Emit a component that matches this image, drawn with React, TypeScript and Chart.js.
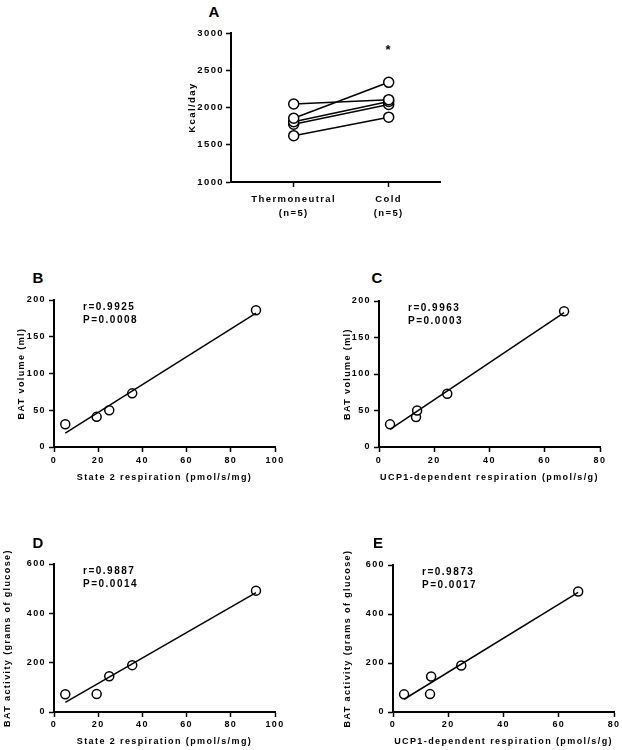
import React, { useEffect, useRef } from "react";
import { Chart, registerables } from "chart.js";
Chart.register(...registerables);

const FONT = '"Liberation Sans", Arial, Helvetica, sans-serif';
const SPACING = "1.4px";

// ---------- Panel A data ----------
const groupLabels = [["Thermoneutral", "(n=5)"], ["Cold", "(n=5)"]];
const groupPositions = [1, 2];
const groupAxisRange = [0.34, 2.54];
const kcalThermoneutral = [2047, 1855, 1810, 1775, 1622];
const kcalCold = [2105, 2338, 2080, 2040, 1870];
const kcalTicks = [1000, 1500, 2000, 2500, 3000];
const kcalTitle = "Kcal/day";
const significanceMark = "*";
const significanceY = 2760;

// ---------- Panels B-E data ----------
const state2Respiration = [5.1, 19.3, 25.0, 35.4, 91.4];
const ucp1Respiration = [4.0, 13.4, 13.8, 24.7, 67.0];
const batVolume = [31, 41, 50, 73, 186];
const batActivity = [72, 73, 145, 190, 492];

const state2Ticks = [0, 20, 40, 60, 80, 100];
const ucp1Ticks = [0, 20, 40, 60, 80];
const volumeTicks = [0, 50, 100, 150, 200];
const activityTicks = [0, 200, 400, 600];

const fitBx = [5.1, 91.4];
const fitBy = [19, 182];
const fitCx = [4.0, 67.0];
const fitCy = [24, 184];
const fitDx = [5.1, 91.4];
const fitDy = [39, 484];
const fitEx = [4.0, 67.0];
const fitEy = [52, 488];

const statsB = ["r=0.9925", "P=0.0008"];
const statsC = ["r=0.9963", "P=0.0003"];
const statsD = ["r=0.9887", "P=0.0014"];
const statsE = ["r=0.9873", "P=0.0017"];

const state2Title = "State 2 respiration (pmol/s/mg)";
const ucp1Title = "UCP1-dependent respiration (pmol/s/g)";
const volumeTitle = "BAT volume (ml)";
const activityTitle = "BAT activity (grams of glucose)";

// ---------- layout ----------
type Spec = {
  L: number; R: number; T: number; B: number;
  yTitleX: number; xTitleY: number;
  padTop: number; padRight: number;
  fontSize: number; tickPadX: number; tickPadY: number; tickLineHeight?: number;
};

const specA: Spec = { L: 231, R: 440, T: 33, B: 182, yTitleX: 192, xTitleY: 219, padTop: 10, padRight: 15, fontSize: 9.5, tickPadX: 5, tickPadY: 2, tickLineHeight: 1.5 };
const specB: Spec = { L: 54, R: 275, T: 300, B: 447, yTitleX: 22, xTitleY: 478, padTop: 10, padRight: 15, fontSize: 9, tickPadX: 3, tickPadY: 3 };
const specC: Spec = { L: 379, R: 600, T: 301, B: 447, yTitleX: 348, xTitleY: 478, padTop: 10, padRight: 15, fontSize: 9, tickPadX: 3, tickPadY: 3 };
const specD: Spec = { L: 54, R: 275, T: 564, B: 712, yTitleX: 8, xTitleY: 742, padTop: 18, padRight: 15, fontSize: 9, tickPadX: 2.5, tickPadY: 3 };
const specE: Spec = { L: 393, R: 615, T: 565, B: 712, yTitleX: 348, xTitleY: 742, padTop: 18, padRight: 8, fontSize: 9, tickPadX: 2.5, tickPadY: 3 };

function geom(s: Spec) {
  const left = Math.floor(s.yTitleX - 8);
  const top = s.T - s.padTop;
  const bottom = Math.min(750, Math.ceil(s.xTitleY + 8));
  return {
    left, top,
    width: s.R + s.padRight - left,
    height: bottom - top,
    wy: s.L - left,
    hx: bottom - s.B,
  };
}

const spacingPlugin = {
  id: "spacing",
  beforeInit(chart: any) { chart.ctx.letterSpacing = SPACING; },
  beforeLayout(chart: any) { chart.ctx.letterSpacing = SPACING; },
  beforeDraw(chart: any) { chart.ctx.letterSpacing = SPACING; },
};

function titlesPlugin(s: Spec, g: any, xTitle: string | null, yTitle: string) {
  return {
    id: "axisTitles",
    afterDraw(chart: any) {
      const ctx = chart.ctx;
      const ca = chart.chartArea;
      ctx.save();
      ctx.font = `bold ${s.fontSize}px ${FONT}`;
      ctx.letterSpacing = SPACING;
      ctx.fillStyle = "#000";
      ctx.textAlign = "center";
      ctx.textBaseline = "middle";
      if (xTitle) ctx.fillText(xTitle, (ca.left + ca.right) / 2, s.xTitleY - g.top);
      ctx.translate(s.yTitleX - g.left, (ca.top + ca.bottom) / 2);
      ctx.rotate(-Math.PI / 2);
      ctx.fillText(yTitle, 0, 0);
      ctx.restore();
    },
  };
}

function statsPlugin(lines: string[]) {
  return {
    id: "stats",
    afterDatasetsDraw(chart: any) {
      const ctx = chart.ctx;
      const ca = chart.chartArea;
      ctx.save();
      ctx.font = `bold 10px ${FONT}`;
      ctx.letterSpacing = "1.5px";
      ctx.fillStyle = "#000";
      ctx.textAlign = "left";
      ctx.textBaseline = "middle";
      lines.forEach((t, i) => ctx.fillText(t, ca.left + 29, ca.top + 7 + i * 13.5));
      ctx.restore();
    },
  };
}

const asteriskPlugin = {
  id: "asterisk",
  afterDatasetsDraw(chart: any) {
    const ctx = chart.ctx;
    ctx.save();
    ctx.font = `bold 13px ${FONT}`;
    ctx.fillStyle = "#000";
    ctx.textAlign = "center";
    ctx.textBaseline = "middle";
    ctx.fillText(significanceMark, chart.scales.x.getPixelForValue(groupPositions[1]), chart.scales.y.getPixelForValue(significanceY));
    ctx.restore();
  },
};

function buildOptions(s: Spec, g: any, xTicks: number[], yTicks: number[], xMin: number, xMax: number, xLabel?: (v: number) => any) {
  const tickFont = { family: FONT, size: s.fontSize, weight: "bold", lineHeight: s.tickLineHeight ?? 1.2 };
  const grid = { display: true, drawOnChartArea: false, drawTicks: true, tickLength: 5, tickWidth: 1.5, tickColor: "#000", color: "#000" };
  const border = { display: true, color: "#000", width: 2 };
  return {
    responsive: false,
    animation: false,
    events: [],
    layout: { padding: { top: s.padTop, right: s.padRight, left: 0, bottom: 0 } },
    plugins: { legend: { display: false }, tooltip: { enabled: false }, title: { display: false } },
    scales: {
      x: {
        type: "linear", min: xMin, max: xMax, grid, border,
        afterBuildTicks: (sc: any) => { sc.ticks = xTicks.map((v) => ({ value: v })); },
        ticks: { font: tickFont, color: "#000", padding: s.tickPadX, maxRotation: 0, minRotation: 0, autoSkip: false, callback: xLabel ?? ((v: number) => String(v)) },
        afterFit: (sc: any) => { sc.height = g.hx; },
      },
      y: {
        type: "linear", min: yTicks[0], max: yTicks[yTicks.length - 1], grid, border,
        afterBuildTicks: (sc: any) => { sc.ticks = yTicks.map((v) => ({ value: v })); },
        ticks: { font: tickFont, color: "#000", padding: s.tickPadY, autoSkip: false, callback: (v: number) => String(v) },
        afterFit: (sc: any) => { sc.width = g.wy; },
      },
    },
  };
}

const pointStyle = { pointRadius: 4.5, pointBorderWidth: 1.5, pointBorderColor: "#000", pointBackgroundColor: "#fff" };

function configA(s: Spec, g: any) {
  const datasets = kcalThermoneutral.map((v, i) => ({
    data: [{ x: groupPositions[0], y: v }, { x: groupPositions[1], y: kcalCold[i] }],
    showLine: true, borderColor: "#000", borderWidth: 1.5, ...pointStyle, pointRadius: 5,
  }));
  return {
    type: "scatter",
    data: { datasets },
    options: buildOptions(s, g, groupPositions, kcalTicks, groupAxisRange[0], groupAxisRange[1], (v: number) => groupLabels[groupPositions.indexOf(v)]),
    plugins: [spacingPlugin, titlesPlugin(s, g, null, kcalTitle), asteriskPlugin],
  };
}

function configScatter(s: Spec, g: any, xs: number[], ys: number[], fx: number[], fy: number[], xTicks: number[], yTicks: number[], xTitle: string, yTitle: string, stats: string[]) {
  return {
    type: "scatter",
    data: {
      datasets: [
        { data: fx.map((x, i) => ({ x, y: fy[i] })), showLine: true, borderColor: "#000", borderWidth: 1.5, pointRadius: 0 },
        { data: xs.map((x, i) => ({ x, y: ys[i] })), showLine: false, ...pointStyle },
      ],
    },
    options: buildOptions(s, g, xTicks, yTicks, xTicks[0], xTicks[xTicks.length - 1]),
    plugins: [spacingPlugin, titlesPlugin(s, g, xTitle, yTitle), statsPlugin(stats)],
  };
}

function Panel({ spec, make }: { spec: Spec; make: (s: Spec, g: any) => any }) {
  const ref = useRef<HTMLCanvasElement>(null);
  const g = geom(spec);
  useEffect(() => {
    const chart = new Chart(ref.current as HTMLCanvasElement, make(spec, g) as any);
    return () => chart.destroy();
  }, []);
  return (
    <div style={{ position: "absolute", left: g.left, top: g.top, width: g.width, height: g.height }}>
      <canvas ref={ref} width={g.width} height={g.height} style={{ display: "block", width: g.width, height: g.height }} />
    </div>
  );
}

function Letter({ text, x, y }: { text: string; x: number; y: number }) {
  return (
    <div style={{ position: "absolute", left: x, top: y, transform: "translate(-50%, -50%)", font: `bold 15px ${FONT}`, lineHeight: 1, color: "#000" }}>
      {text}
    </div>
  );
}

export default function App() {
  return (
    <div style={{ position: "absolute", left: 0, top: 0, width: 622, height: 750, overflow: "hidden", background: "#fff" }}>
      <Panel spec={specA} make={configA} />
      <Panel spec={specB} make={(s, g) => configScatter(s, g, state2Respiration, batVolume, fitBx, fitBy, state2Ticks, volumeTicks, state2Title, volumeTitle, statsB)} />
      <Panel spec={specC} make={(s, g) => configScatter(s, g, ucp1Respiration, batVolume, fitCx, fitCy, ucp1Ticks, volumeTicks, ucp1Title, volumeTitle, statsC)} />
      <Panel spec={specD} make={(s, g) => configScatter(s, g, state2Respiration, batActivity, fitDx, fitDy, state2Ticks, activityTicks, state2Title, activityTitle, statsD)} />
      <Panel spec={specE} make={(s, g) => configScatter(s, g, ucp1Respiration, batActivity, fitEx, fitEy, ucp1Ticks, activityTicks, ucp1Title, activityTitle, statsE)} />
      <Letter text="A" x={214} y={11} />
      <Letter text="B" x={38} y={277} />
      <Letter text="C" x={377} y={277} />
      <Letter text="D" x={38} y={542} />
      <Letter text="E" x={378} y={542} />
    </div>
  );
}
